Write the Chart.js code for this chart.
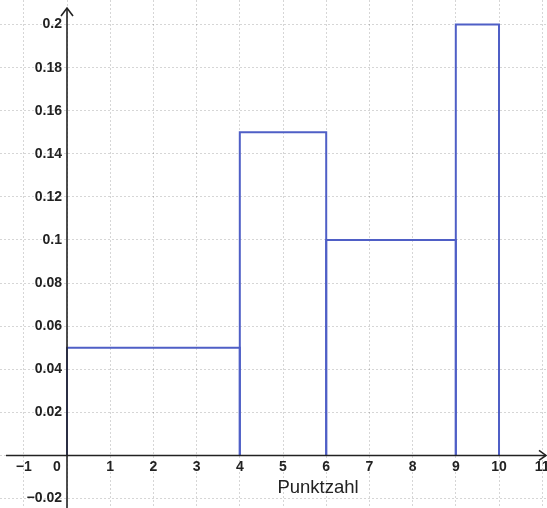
<!DOCTYPE html>
<html>
<head>
<meta charset="utf-8">
<script src="https://cdn.jsdelivr.net/npm/chart.js@4"></script>
<style>
  html, body { margin: 0; padding: 0; background: #fff; }
  #wrap { width: 547px; height: 508px; position: relative; }
</style>
</head>
<body>
<div id="wrap"><canvas id="histChart"></canvas></div>
<script>
// class bounds (Punktzahl) and heights of the bars
const classBounds = [0, 4, 6, 9, 10];
const densities = [0.05, 0.15, 0.1, 0.2];

// tick labels
const xTicks = [-1, 0, 1, 2, 3, 4, 5, 6, 7, 8, 9, 10, 11];
const xTickLabels = ['\u22121', '0', '1', '2', '3', '4', '5', '6', '7', '8', '9', '10', '11'];
const yTicks = [-0.02, 0.02, 0.04, 0.06, 0.08, 0.1, 0.12, 0.14, 0.16, 0.18, 0.2];
const yTickLabels = ['\u22120.02', '0.02', '0.04', '0.06', '0.08', '0.1', '0.12', '0.14', '0.16', '0.18', '0.2'];
const xTitle = 'Punktzahl';

const blue = '#4f5fc6';
const ink = '#222';

// one closed outline per bar
const datasets = densities.map((h, i) => {
    const a = classBounds[i], b = classBounds[i + 1];
    return {
        data: [{x: a, y: 0}, {x: a, y: h}, {x: b, y: h}, {x: b, y: 0}],
        showLine: true,
        borderColor: blue,
        borderWidth: 2,
        pointRadius: 0,
        fill: false,
        tension: 0
    };
});

// axes with arrows + labels drawn like in GeoGebra
const axesPlugin = {
    id: 'axesPlugin',
    afterDatasetsDraw(chart) {
        const {ctx, chartArea, scales: {x, y}} = chart;
        const x0 = x.getPixelForValue(0);
        const y0 = y.getPixelForValue(0);
        ctx.save();
        ctx.strokeStyle = ink;
        ctx.lineWidth = 1.6;

        // x axis
        ctx.beginPath();
        ctx.moveTo(chartArea.left + 6, y0);
        ctx.lineTo(chartArea.right - 1, y0);
        ctx.stroke();
        ctx.beginPath();
        ctx.moveTo(chartArea.right - 8, y0 - 5);
        ctx.lineTo(chartArea.right - 1, y0);
        ctx.lineTo(chartArea.right - 8, y0 + 5);
        ctx.stroke();

        // y axis
        ctx.beginPath();
        ctx.moveTo(x0, chartArea.bottom);
        ctx.lineTo(x0, chartArea.top + 8);
        ctx.stroke();
        ctx.beginPath();
        ctx.moveTo(x0 - 6, chartArea.top + 16);
        ctx.lineTo(x0, chartArea.top + 8);
        ctx.lineTo(x0 + 6, chartArea.top + 16);
        ctx.stroke();

        ctx.fillStyle = ink;
        ctx.font = 'bold 14px "Liberation Sans", Arial, sans-serif';

        // y tick labels
        ctx.textAlign = 'right';
        ctx.textBaseline = 'middle';
        yTicks.forEach((v, i) => {
            ctx.fillText(yTickLabels[i], x0 - 5, y.getPixelForValue(v));
        });

        // x tick labels
        ctx.textAlign = 'center';
        xTicks.forEach((v, i) => {
            const px = v === 0 ? x0 - 10 : x.getPixelForValue(v);
            ctx.fillText(xTickLabels[i], px, y0 + 12);
        });

        // axis title
        ctx.font = '18.5px "Liberation Sans", Arial, sans-serif';
        ctx.textBaseline = 'alphabetic';
        ctx.fillText(xTitle, chartArea.left + 318, y0 + 38);
        ctx.restore();
    }
};

const gridStyle = {
    color: 'rgba(0,0,0,0.16)',
    lineWidth: 1,
    drawTicks: false
};

new Chart(document.getElementById('histChart'), {
    type: 'scatter',
    data: { datasets: datasets },
    options: {
        responsive: true,
        maintainAspectRatio: false,
        animation: false,
        layout: { padding: 0 },
        plugins: { legend: { display: false }, tooltip: { enabled: false } },
        scales: {
            x: {
                type: 'linear',
                min: -1.551,
                max: 11.111,
                grid: gridStyle,
                border: { display: false, dash: [2, 2] },
                ticks: { display: false, stepSize: 1, includeBounds: false }
            },
            y: {
                type: 'linear',
                min: -0.0244,
                max: 0.2114,
                grid: gridStyle,
                border: { display: false, dash: [2, 2] },
                ticks: { display: false, stepSize: 0.02, includeBounds: false }
            }
        }
    },
    plugins: [axesPlugin]
});
</script>
</body>
</html>
